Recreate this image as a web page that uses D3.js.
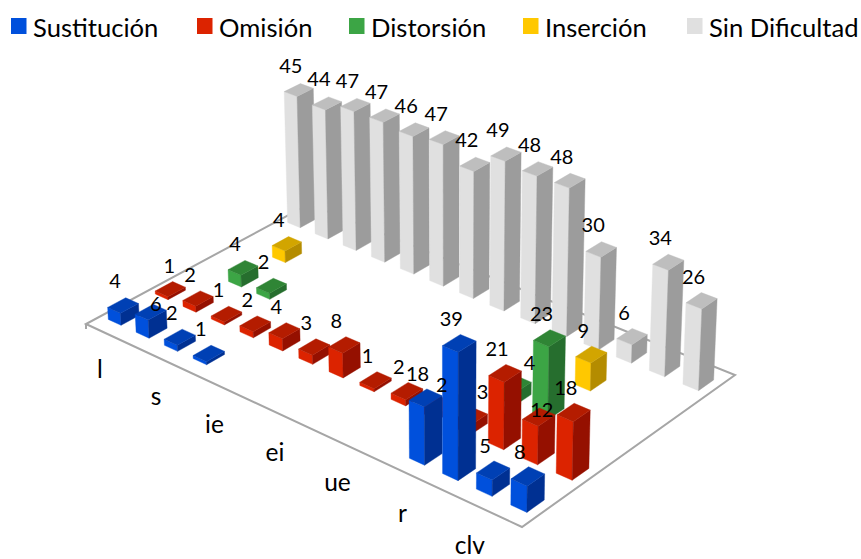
<!DOCTYPE html>
<html>
<head>
<meta charset="utf-8">
<script src="https://cdn.jsdelivr.net/npm/d3@7"></script>
<style>
  html, body { margin: 0; padding: 0; background: #fff; }
  svg { display: block; }
  text { font-family: Lato, "Open Sans", sans-serif; fill: #000; }
</style>
</head>
<body>
<svg id="chart" width="861" height="559"></svg>
<script>
const seriesNames = ["Sustitución", "Omisión", "Distorsión", "Inserción", "Sin Dificultad"];
const categoryCount = 14;
const tickLabels = ["l", "s", "ie", "ei", "ue", "r", "clv"]; // every second category is labelled

const sustitucion = [4, 6, 2, 1, null, null, null, null, null, null, 18, 39, 5, 8];
const omision = [1, 2, 1, 2, 4, 3, 8, 1, 2, 2, 3, 21, 12, 18];
const distorsion = [null, 4, 2, null, null, null, null, null, null, null, 4, 23, null, null];
const insercion = [null, 4, null, null, null, null, null, null, null, null, null, 9, null, null];
const sinDificultad = [45, 44, 47, 47, 46, 47, 42, 49, 48, 48, 30, 6, 34, 26];
const seriesValues = [sustitucion, omision, distorsion, insercion, sinDificultad];

// main face, top face, side face
const seriesColors = [
  ["#0050dc", "#0040b4", "#003092"],
  ["#dc2300", "#b41c00", "#951000"],
  ["#3ca545", "#2f8535", "#266e2e"],
  ["#ffc800", "#d2a500", "#b48c00"],
  ["#e0e0e0", "#bebebe", "#9c9c9c"]
];

const svg = d3.select("#chart");

// floor corners on screen: left, front, right, back
const floor = [[86, 324], [522, 527], [735, 375], [309, 204]];
const verticalVanish = [451, 6500];
const zStrength = -0.000485;

// square to quad homography
function floorMatrix(q) {
  const [p0, p1, p2, p3] = q;
  const dx1 = p1[0] - p2[0], dx2 = p3[0] - p2[0], sx = p0[0] - p1[0] + p2[0] - p3[0];
  const dy1 = p1[1] - p2[1], dy2 = p3[1] - p2[1], sy = p0[1] - p1[1] + p2[1] - p3[1];
  const den = dx1 * dy2 - dx2 * dy1;
  const g = (sx * dy2 - dx2 * sy) / den;
  const h = (dx1 * sy - sx * dy1) / den;
  return {
    a: p1[0] - p0[0] + g * p1[0], b: p3[0] - p0[0] + h * p3[0], c: p0[0],
    d: p1[1] - p0[1] + g * p1[1], e: p3[1] - p0[1] + h * p3[1], f: p0[1],
    g, h
  };
}
const M = floorMatrix(floor);

function project(u, v, z) {
  const w = M.g * u + M.h * v + 1 + zStrength * z;
  const x = M.a * u + M.b * v + M.c + zStrength * z * verticalVanish[0];
  const y = M.d * u + M.e * v + M.f + zStrength * z * verticalVanish[1];
  return [x / w, y / w];
}

const uScale = d3.scaleBand().domain(d3.range(categoryCount)).range([0, 1]).paddingInner(0.54).paddingOuter(0.27);
const vScale = d3.scaleBand().domain(d3.range(seriesNames.length)).range([0, 1]).paddingInner(0.62).paddingOuter(0.31);
const zScale = d3.scaleLinear().domain([0, 1]).range([0, 1]);

const line = d3.line();

// floor outline
svg.append("path")
  .attr("d", line(floor) + "Z")
  .attr("fill", "none")
  .attr("stroke", "#a6a6a6")
  .attr("stroke-width", 2);

svg.append("path")
  .attr("d", line([floor[0], [floor[0][0], floor[0][1] + 5]]))
  .attr("stroke", "#a6a6a6")
  .attr("stroke-width", 2);

// bars, back row first
const barLayer = svg.append("g");
for (let s = seriesNames.length - 1; s >= 0; s--) {
  seriesValues[s].forEach((value, c) => {
    if (value === null) return;
    const u0 = uScale(c), u1 = u0 + uScale.bandwidth();
    const v0 = vScale(s), v1 = v0 + vScale.bandwidth();
    const z = zScale(value);
    const [mainColor, topColor, sideColor] = seriesColors[s];
    const g = barLayer.append("g");
    g.append("path")
      .attr("d", line([project(u0, v0, 0), project(u1, v0, 0), project(u1, v0, z), project(u0, v0, z)]) + "Z")
      .attr("fill", mainColor).attr("stroke", mainColor).attr("stroke-width", 0.4);
    g.append("path")
      .attr("d", line([project(u1, v0, 0), project(u1, v1, 0), project(u1, v1, z), project(u1, v0, z)]) + "Z")
      .attr("fill", sideColor).attr("stroke", sideColor).attr("stroke-width", 0.4);
    g.append("path")
      .attr("d", line([project(u0, v0, z), project(u1, v0, z), project(u1, v1, z), project(u0, v1, z)]) + "Z")
      .attr("fill", topColor).attr("stroke", topColor).attr("stroke-width", 0.4);
  });
}

// value labels sit above and left of each bar top, a few were moved by hand in the original
const labelNudges = [
  { s: 0, c: 1, dx: 13, dy: 16 },
  { s: 1, c: 0, dx: 7, dy: 1 },
  { s: 1, c: 9, dx: 11, dy: 4 },
  { s: 1, c: 10, dx: 19, dy: 0 },
  { s: 2, c: 10, dx: 22, dy: 3 },
  { s: 1, c: 12, dx: 11, dy: 17 }
];
const labelLayer = svg.append("g");
seriesValues.forEach((values, s) => {
  values.forEach((value, c) => {
    if (value === null) return;
    const uMid = uScale(c) + uScale.bandwidth() / 2;
    const vMid = vScale(s) + vScale.bandwidth() / 2;
    const top = project(uMid, vMid, zScale(value));
    const nudge = labelNudges.find(n => n.s === s && n.c === c) || { dx: 0, dy: 0 };
    labelLayer.append("text")
      .attr("x", top[0] - 8 + nudge.dx)
      .attr("y", top[1] - 24 + nudge.dy)
      .attr("dy", "0.35em")
      .attr("text-anchor", "middle")
      .attr("font-size", 20)
      .text(value);
  });
});

// category labels below the front edge, the gap grows toward the front corner
tickLabels.forEach((label, i) => {
  const c = i * 2;
  const p = project(uScale(c) + uScale.bandwidth() / 2, 0, 0);
  svg.append("text")
    .attr("x", p[0])
    .attr("y", p[1] + 39 + i * 0.6)
    .attr("dy", "0.35em")
    .attr("text-anchor", "middle")
    .attr("font-size", 24.5)
    .text(label);
});

// legend
const legendX = [11, 197, 349, 523, 687];
seriesNames.forEach((name, s) => {
  svg.append("rect")
    .attr("x", legendX[s]).attr("y", 18)
    .attr("width", 15.5).attr("height", 16)
    .attr("fill", seriesColors[s][0]);
  svg.append("text")
    .attr("x", legendX[s] + 22)
    .attr("y", 37)
    .attr("font-size", 25.6)
    .text(name);
});
</script>
</body>
</html>
